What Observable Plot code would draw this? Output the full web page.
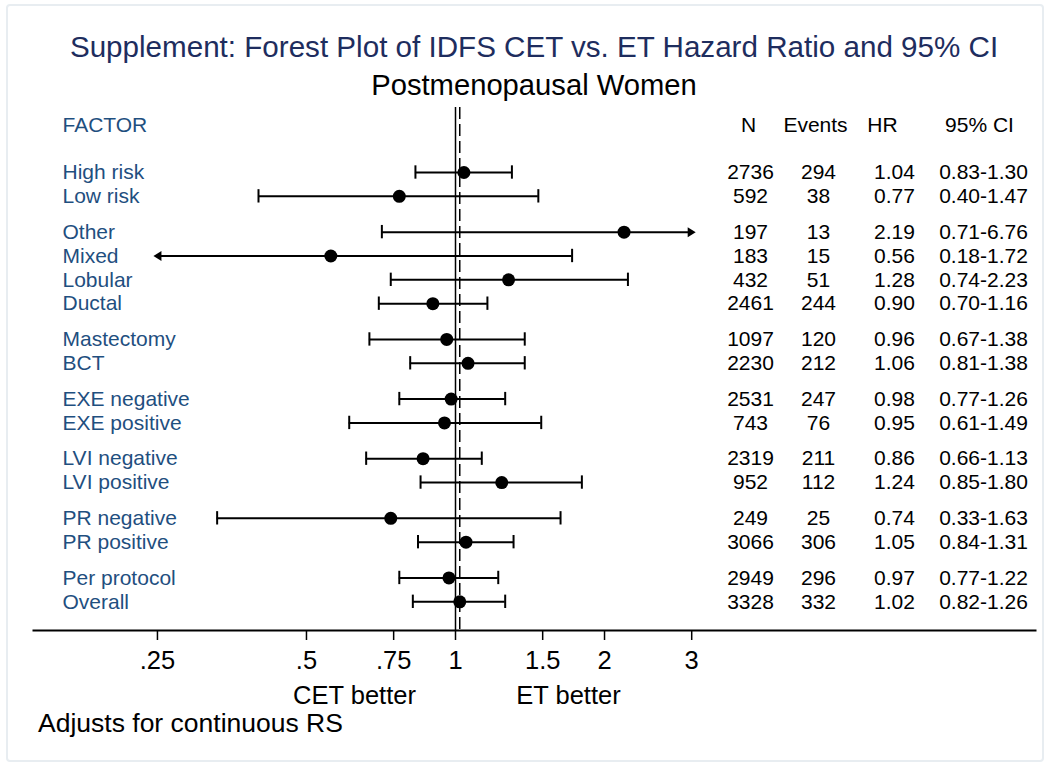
<!DOCTYPE html>
<html>
<head>
<meta charset="utf-8">
<script src="https://cdn.jsdelivr.net/npm/d3@7"></script>
<script src="https://cdn.jsdelivr.net/npm/@observablehq/plot@0.6"></script>
<style>
  html, body { margin: 0; padding: 0; background: #ffffff; }
  #wrap { position: relative; width: 1048px; height: 765px; overflow: hidden; font-family: "Liberation Sans", Arial, sans-serif; }
  #border { position: absolute; left: 6px; top: 4px; width: 1034px; height: 754px; border: 2px solid #e8edf1; border-radius: 4px; }
  .ttl { position: absolute; left: 33px; width: 1002px; text-align: center; line-height: 1; white-space: nowrap; }
  #title { top: 32px; font-size: 29.6px; color: #1e2d5e; }
  #subtitle { top: 71px; font-size: 29.2px; color: #000; }
  #chart { position: absolute; left: 0; top: 100px; }
  #caption { position: absolute; left: 38px; top: 710px; font-size: 26.5px; line-height: 1; color: #000; white-space: nowrap; }
</style>
</head>
<body>
<div id="wrap">
  <div id="border"></div>
  <div id="title" class="ttl">Supplement: Forest Plot of IDFS CET vs. ET Hazard Ratio and 95% CI</div>
  <div id="subtitle" class="ttl">Postmenopausal Women</div>
  <div id="chart"></div>
  <div id="caption">Adjusts for continuous RS</div>
</div>
<script>
// ---- data ----
const factors = ["High risk", "Low risk", "Other", "Mixed", "Lobular", "Ductal", "Mastectomy", "BCT",
  "EXE negative", "EXE positive", "LVI negative", "LVI positive", "PR negative", "PR positive",
  "Per protocol", "Overall"];
const groups = [1, 1, 2, 2, 2, 2, 3, 3, 4, 4, 5, 5, 6, 6, 7, 7];
const nTotal = [2736, 592, 197, 183, 432, 2461, 1097, 2230, 2531, 743, 2319, 952, 249, 3066, 2949, 3328];
const events = [294, 38, 13, 15, 51, 244, 120, 212, 247, 76, 211, 112, 25, 306, 296, 332];
const hazardRatio = [1.04, 0.77, 2.19, 0.56, 1.28, 0.90, 0.96, 1.06, 0.98, 0.95, 0.86, 1.24, 0.74, 1.05, 0.97, 1.02];
const ciLow = [0.83, 0.40, 0.71, 0.18, 0.74, 0.70, 0.67, 0.81, 0.77, 0.61, 0.66, 0.85, 0.33, 0.84, 0.77, 0.82];
const ciHigh = [1.30, 1.47, 6.76, 1.72, 2.23, 1.16, 1.38, 1.38, 1.26, 1.49, 1.13, 1.80, 1.63, 1.31, 1.22, 1.26];
const xTicks = [0.25, 0.5, 0.75, 1, 1.5, 2, 3];
const xTickLabels = [".25", ".5", ".75", "1", "1.5", "2", "3"];
const headers = ["FACTOR", "N", "Events", "HR", "95% CI"];
const sideLabels = ["CET better", "ET better"];

// ---- layout / style ----
const xMin = 0.25, xMax = 3;
const labelColor = "#1f4f7f";
const cap = 0.28;
const rows = factors.map((f, i) => ({
  factor: f,
  y: i + 0.5 * (groups[i] - 1),
  n: nTotal[i], ev: events[i], hr: hazardRatio[i], lo: ciLow[i], hi: ciHigh[i],
  x1: Math.max(ciLow[i], xMin), x2: Math.min(ciHigh[i], xMax)
}));
const overallHR = hazardRatio[factors.indexOf("Overall")];
const tickLabelMap = new Map(xTicks.map((t, i) => [t, xTickLabels[i]]));

const ml = 33;
const colX = {n: 750, ev: 818, hr: 894, ci: 983};
const headX = [62, 748, 815, 882, 979];

const arrowSym = {
  draw(ctx) { ctx.moveTo(4, 0); ctx.lineTo(-4, -5); ctx.lineTo(-4, 5); ctx.closePath(); }
};

const plot = Plot.plot({
  width: 1048,
  height: 610,
  marginLeft: ml,
  marginRight: 13,
  marginTop: 7,
  marginBottom: 80,
  style: {fontFamily: "'Liberation Sans', Arial, sans-serif", fontSize: "21px", color: "#000", background: "transparent", overflow: "visible"},
  x: {type: "log", domain: [xMin, xMax], range: [455 + 215 * Math.log(xMin), 455 + 215 * Math.log(xMax)]},
  y: {domain: [-2, 18], range: [24.3, 501.3], axis: null},
  marks: [
    Plot.frame({anchor: "bottom", strokeWidth: 2}),
    Plot.axisX({ticks: xTicks, tickFormat: d => tickLabelMap.get(d), tickSize: 10, tickPadding: 10, fontSize: 25.5, strokeWidth: 1.5, label: null, anchor: "bottom"}),
    Plot.ruleX([1], {strokeWidth: 1.5}),
    Plot.ruleX([overallHR], {strokeWidth: 1.5, strokeDasharray: "12,5"}),
    Plot.ruleY(rows, {x1: "x1", x2: "x2", y: "y", strokeWidth: 2}),
    Plot.ruleX(rows.filter(d => d.lo >= xMin), {x: "lo", y1: d => d.y - cap, y2: d => d.y + cap, strokeWidth: 2}),
    Plot.ruleX(rows.filter(d => d.hi <= xMax), {x: "hi", y1: d => d.y - cap, y2: d => d.y + cap, strokeWidth: 2}),
    Plot.dot(rows.filter(d => d.hi > xMax), {x: () => xMax, y: "y", symbol: arrowSym, r: 5, fill: "#000", stroke: "none"}),
    Plot.dot(rows.filter(d => d.lo < xMin), {x: () => xMin, y: "y", symbol: arrowSym, r: 5, fill: "#000", stroke: "none", rotate: 180}),
    Plot.dot(rows, {x: "hr", y: "y", r: 6.5, fill: "#000", stroke: "none"}),
    Plot.text(rows, {y: "y", text: "factor", frameAnchor: "left", dx: 62 - ml, textAnchor: "start", fill: labelColor}),
    Plot.text(rows, {y: "y", text: d => String(d.n), frameAnchor: "left", dx: colX.n - ml, textAnchor: "middle"}),
    Plot.text(rows, {y: "y", text: d => String(d.ev), frameAnchor: "left", dx: colX.ev - ml, textAnchor: "middle"}),
    Plot.text(rows, {y: "y", text: d => d.hr.toFixed(2), frameAnchor: "left", dx: colX.hr - ml, textAnchor: "middle"}),
    Plot.text(rows, {y: "y", text: d => d.lo.toFixed(2) + "-" + d.hi.toFixed(2), frameAnchor: "left", dx: colX.ci - ml, textAnchor: "middle"}),
    Plot.text([headers[0]], {y: () => -2, text: d => d, frameAnchor: "left", dx: headX[0] - ml, textAnchor: "start", fill: labelColor}),
    ...headers.slice(1).map((h, i) => Plot.text([h], {y: () => -2, text: d => d, frameAnchor: "left", dx: headX[i + 1] - ml, textAnchor: "middle"})),
    Plot.text([sideLabels[0]], {text: d => d, frameAnchor: "bottom-left", lineAnchor: "middle", dx: 354 - ml, dy: 65, textAnchor: "middle", fontSize: 25.5}),
    Plot.text([sideLabels[1]], {text: d => d, frameAnchor: "bottom-left", lineAnchor: "middle", dx: 568 - ml, dy: 65, textAnchor: "middle", fontSize: 25.5})
  ]
});
document.getElementById("chart").appendChild(plot);
</script>
</body>
</html>
